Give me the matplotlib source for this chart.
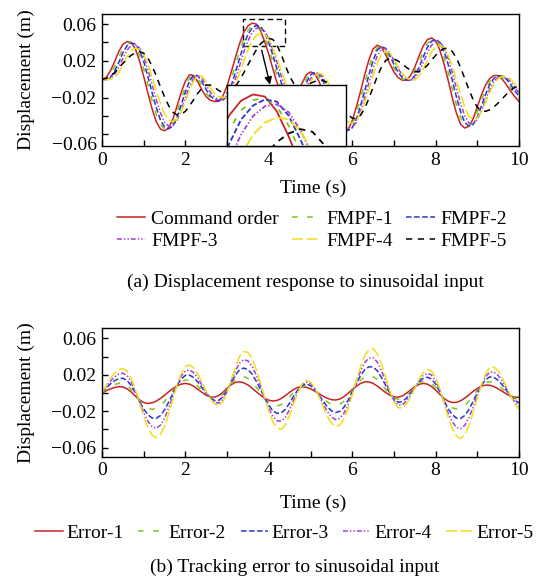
import matplotlib
matplotlib.use('Agg')
import matplotlib.pyplot as plt
import numpy as np
from matplotlib.patches import Rectangle

plt.rcParams['font.family'] = ['Liberation Serif', 'DejaVu Serif']
plt.rcParams['font.size'] = 14
plt.rcParams['lines.scale_dashes'] = False

# sampling grid (s)
time = np.linspace(0, 10, 101)

# (a) displacement response, every 0.1 s
command = [0.000, 0.002, 0.009, 0.019, 0.030, 0.038, 0.041, 0.040, 0.033, 0.020,
           0.003, -0.015, -0.032, -0.046, -0.054, -0.056, -0.053, -0.043, -0.029, -0.014,
           -0.002, 0.005, 0.004, -0.003, -0.012, -0.019, -0.023, -0.024, -0.024, -0.018,
           -0.007, 0.008, 0.024, 0.039, 0.051, 0.058, 0.061, 0.060, 0.053, 0.041,
           0.027, 0.011, -0.004, -0.015, -0.022, -0.024, -0.022, -0.014, -0.004, 0.005,
           0.008, 0.006, -0.002, -0.014, -0.028, -0.041, -0.051, -0.057, -0.058, -0.055,
           -0.045, -0.030, -0.013, 0.005, 0.021, 0.033, 0.037, 0.035, 0.027, 0.017,
           0.008, 0.002, -0.001, -0.001, 0.004, 0.013, 0.025, 0.036, 0.043, 0.045,
           0.042, 0.032, 0.017, -0.001, -0.020, -0.037, -0.049, -0.053, -0.051, -0.043,
           -0.030, -0.017, -0.006, 0.001, 0.004, 0.004, 0.000, -0.006, -0.013, -0.019,
           -0.024]
fmpf1 = [0.0, 0.0010, 0.0054, 0.0137, 0.0240, 0.0333, 0.0387, 0.0397, 0.0358, 0.0260,
         0.0113, -0.0059, -0.0230, -0.0382, -0.0490, -0.0539, -0.0534, -0.0470, -0.0353, -0.0211,
         -0.0078, 0.0015, 0.0044, 0.0005, -0.0074, -0.0152, -0.0206, -0.0230, -0.0235, -0.0206,
         -0.0123, 0.0005, 0.0157, 0.0309, 0.0441, 0.0534, 0.0583, 0.0593, 0.0554, 0.0461,
         0.0333, 0.0186, 0.0034, -0.0093, -0.0181, -0.0225, -0.0225, -0.0176, -0.0088, 0.0005,
         0.0064, 0.0069, 0.0020, -0.0078, -0.0206, -0.0338, -0.0451, -0.0529, -0.0564, -0.0554,
         -0.0490, -0.0368, -0.0211, -0.0039, 0.0127, 0.0265, 0.0343, 0.0353, 0.0304, 0.0216,
         0.0123, 0.0049, 0.0005, -0.0010, 0.0015, 0.0083, 0.0186, 0.0299, 0.0387, 0.0431,
         0.0426, 0.0363, 0.0240, 0.0078, -0.0103, -0.0279, -0.0421, -0.0500, -0.0510, -0.0461,
         -0.0358, -0.0230, -0.0113, -0.0025, 0.0025, 0.0039, 0.0020, -0.0029, -0.0093, -0.0157,
         -0.0211]
fmpf2 = [0.0, 0.0000, 0.0020, 0.0086, 0.0182, 0.0288, 0.0365, 0.0394, 0.0384, 0.0317,
         0.0192, 0.0029, -0.0144, -0.0307, -0.0442, -0.0518, -0.0538, -0.0509, -0.0413, -0.0278,
         -0.0134, -0.0019, 0.0048, 0.0038, -0.0029, -0.0115, -0.0182, -0.0221, -0.0230, -0.0230,
         -0.0173, -0.0067, 0.0077, 0.0230, 0.0374, 0.0490, 0.0557, 0.0586, 0.0576, 0.0509,
         0.0394, 0.0259, 0.0106, -0.0038, -0.0144, -0.0211, -0.0230, -0.0211, -0.0134, -0.0038,
         0.0048, 0.0077, 0.0058, -0.0019, -0.0134, -0.0269, -0.0394, -0.0490, -0.0547, -0.0557,
         -0.0528, -0.0432, -0.0288, -0.0125, 0.0048, 0.0202, 0.0317, 0.0355, 0.0336, 0.0259,
         0.0163, 0.0077, 0.0019, -0.0010, -0.0010, 0.0038, 0.0125, 0.0240, 0.0346, 0.0413,
         0.0432, 0.0403, 0.0307, 0.0163, -0.0010, -0.0192, -0.0355, -0.0470, -0.0509, -0.0490,
         -0.0413, -0.0288, -0.0163, -0.0058, 0.0010, 0.0038, 0.0038, 0.0000, -0.0058, -0.0125,
         -0.0182]
fmpf3 = [0.0, 0.0, 0.0010, 0.0051, 0.0130, 0.0228, 0.0316, 0.0368, 0.0377, 0.0340,
         0.0247, 0.0107, -0.0056, -0.0219, -0.0363, -0.0466, -0.0512, -0.0507, -0.0447, -0.0335,
         -0.0200, -0.0074, 0.0014, 0.0042, 0.0005, -0.0070, -0.0144, -0.0196, -0.0219, -0.0223,
         -0.0196, -0.0117, 0.0005, 0.0149, 0.0294, 0.0419, 0.0507, 0.0554, 0.0563, 0.0526,
         0.0438, 0.0316, 0.0177, 0.0032, -0.0088, -0.0172, -0.0214, -0.0214, -0.0167, -0.0084,
         0.0005, 0.0061, 0.0066, 0.0019, -0.0074, -0.0196, -0.0321, -0.0428, -0.0503, -0.0536,
         -0.0526, -0.0466, -0.0350, -0.0200, -0.0037, 0.0121, 0.0252, 0.0326, 0.0335, 0.0289,
         0.0205, 0.0117, 0.0047, 0.0005, -0.0010, 0.0014, 0.0079, 0.0177, 0.0284, 0.0368,
         0.0409, 0.0405, 0.0345, 0.0228, 0.0074, -0.0098, -0.0265, -0.0400, -0.0475, -0.0485,
         -0.0438, -0.0340, -0.0219, -0.0107, -0.0024, 0.0024, 0.0037, 0.0019, -0.0028, -0.0088,
         -0.0149]
fmpf4 = [0.0, 0.0, 0.0, 0.0016, 0.0074, 0.0156, 0.0246, 0.0312, 0.0336, 0.0328,
         0.0271, 0.0164, 0.0025, -0.0123, -0.0262, -0.0377, -0.0443, -0.0459, -0.0435, -0.0353,
         -0.0238, -0.0115, -0.0016, 0.0041, 0.0033, -0.0025, -0.0098, -0.0156, -0.0189, -0.0197,
         -0.0197, -0.0148, -0.0057, 0.0066, 0.0197, 0.0320, 0.0418, 0.0476, 0.0500, 0.0492,
         0.0435, 0.0336, 0.0221, 0.0090, -0.0033, -0.0123, -0.0180, -0.0197, -0.0180, -0.0115,
         -0.0033, 0.0041, 0.0066, 0.0049, -0.0016, -0.0115, -0.0230, -0.0336, -0.0418, -0.0467,
         -0.0476, -0.0451, -0.0369, -0.0246, -0.0107, 0.0041, 0.0172, 0.0271, 0.0303, 0.0287,
         0.0221, 0.0139, 0.0066, 0.0016, -0.0008, -0.0008, 0.0033, 0.0107, 0.0205, 0.0295,
         0.0353, 0.0369, 0.0344, 0.0262, 0.0139, -0.0008, -0.0164, -0.0303, -0.0402, -0.0435,
         -0.0418, -0.0353, -0.0246, -0.0139, -0.0049, 0.0008, 0.0033, 0.0033, 0.0000, -0.0049,
         -0.0107]
fmpf5 = [0.0, 0.0009, 0.0035, 0.0073, 0.0121, 0.0173, 0.0223, 0.0261, 0.0289, 0.0300,
         0.0284, 0.0231, 0.0143, 0.0039, -0.0081, -0.0191, -0.0289, -0.0358, -0.0388, -0.0382,
         -0.0347, -0.0288, -0.0220, -0.0150, -0.0095, -0.0064, -0.0063, -0.0088, -0.0122, -0.0147,
         -0.0147, -0.0122, -0.0075, -0.0010, 0.0071, 0.0157, 0.0240, 0.0319, 0.0383, 0.0425,
         0.0445, 0.0432, 0.0369, 0.0266, 0.0146, 0.0032, -0.0047, -0.0080, -0.0076, -0.0062,
         -0.0043, -0.0024, -0.0013, -0.0011, -0.0036, -0.0091, -0.0162, -0.0245, -0.0322, -0.0385,
         -0.0422, -0.0428, -0.0391, -0.0316, -0.0208, -0.0087, 0.0029, 0.0133, 0.0202, 0.0230,
         0.0223, 0.0199, 0.0167, 0.0129, 0.0099, 0.0082, 0.0083, 0.0108, 0.0151, 0.0206,
         0.0260, 0.0305, 0.0334, 0.0338, 0.0303, 0.0230, 0.0127, 0.0006, -0.0112, -0.0222,
         -0.0304, -0.0345, -0.0348, -0.0331, -0.0300, -0.0258, -0.0210, -0.0162, -0.0120, -0.0089,
         -0.0072]

# (b) tracking errors
err1 = [0.0, 0.0024, 0.0045, 0.0061, 0.0069, 0.0067, 0.0047, 0.0011, -0.0034, -0.0076,
        -0.0104, -0.0115, -0.0108, -0.0089, -0.0060, -0.0024, 0.0014, 0.0050, 0.0079, 0.0098,
        0.0105, 0.0097, 0.0074, 0.0041, 0.0006, -0.0025, -0.0043, -0.0046, -0.0028, 0.0008,
        0.0052, 0.0092, 0.0118, 0.0123, 0.0112, 0.0088, 0.0053, 0.0014, -0.0023, -0.0057,
        -0.0079, -0.0088, -0.0081, -0.0060, -0.0027, 0.0008, 0.0041, 0.0062, 0.0069, 0.0062,
        0.0046, 0.0021, -0.0006, -0.0035, -0.0057, -0.0073, -0.0077, -0.0067, -0.0041, -0.0004,
        0.0037, 0.0074, 0.0105, 0.0122, 0.0122, 0.0106, 0.0077, 0.0041, 0.0006, -0.0024,
        -0.0043, -0.0047, -0.0032, -0.0003, 0.0034, 0.0068, 0.0095, 0.0106, 0.0098, 0.0072,
        0.0033, -0.0014, -0.0057, -0.0089, -0.0105, -0.0102, -0.0085, -0.0056, -0.0021, 0.0018,
        0.0050, 0.0076, 0.0087, 0.0085, 0.0070, 0.0046, 0.0018, -0.0011, -0.0034, -0.0046,
        -0.0047]
err2 = [0.0, 0.0036, 0.0068, 0.0092, 0.0107, 0.0108, 0.0086, 0.0041, -0.0020, -0.0083,
        -0.0134, -0.0168, -0.0179, -0.0169, -0.0139, -0.0092, -0.0034, 0.0027, 0.0082, 0.0122,
        0.0143, 0.0139, 0.0114, 0.0074, 0.0028, -0.0017, -0.0048, -0.0061, -0.0050, -0.0013,
        0.0043, 0.0102, 0.0152, 0.0179, 0.0181, 0.0159, 0.0118, 0.0063, 0.0004, -0.0056,
        -0.0103, -0.0134, -0.0142, -0.0127, -0.0091, -0.0042, 0.0010, 0.0051, 0.0075, 0.0078,
        0.0061, 0.0029, -0.0012, -0.0058, -0.0096, -0.0124, -0.0135, -0.0125, -0.0090, -0.0037,
        0.0025, 0.0088, 0.0142, 0.0179, 0.0193, 0.0182, 0.0148, 0.0097, 0.0040, -0.0014,
        -0.0053, -0.0070, -0.0058, -0.0026, 0.0019, 0.0065, 0.0106, 0.0129, 0.0130, 0.0106,
        0.0061, -0.0002, -0.0067, -0.0124, -0.0162, -0.0176, -0.0168, -0.0137, -0.0089, -0.0028,
        0.0029, 0.0079, 0.0113, 0.0124, 0.0113, 0.0085, 0.0048, 0.0005, -0.0033, -0.0061,
        -0.0073]
err3 = [0.0, 0.0052, 0.0099, 0.0135, 0.0157, 0.0162, 0.0138, 0.0081, -0.0001, -0.0092,
        -0.0175, -0.0239, -0.0274, -0.0277, -0.0247, -0.0184, -0.0099, -0.0005, 0.0085, 0.0153,
        0.0194, 0.0196, 0.0168, 0.0119, 0.0057, -0.0006, -0.0055, -0.0082, -0.0081, -0.0041,
        0.0030, 0.0116, 0.0197, 0.0255, 0.0274, 0.0256, 0.0206, 0.0129, 0.0040, -0.0055,
        -0.0135, -0.0196, -0.0224, -0.0218, -0.0178, -0.0110, -0.0031, 0.0037, 0.0084, 0.0099,
        0.0081, 0.0039, -0.0020, -0.0088, -0.0149, -0.0194, -0.0214, -0.0202, -0.0157, -0.0081,
        0.0009, 0.0106, 0.0191, 0.0256, 0.0288, 0.0285, 0.0245, 0.0172, 0.0086, -0.0001,
        -0.0067, -0.0101, -0.0094, -0.0058, -0.0002, 0.0060, 0.0120, 0.0161, 0.0173, 0.0153,
        0.0098, 0.0014, -0.0081, -0.0171, -0.0238, -0.0276, -0.0280, -0.0246, -0.0180, -0.0091,
        0.0002, 0.0084, 0.0147, 0.0177, 0.0171, 0.0139, 0.0089, 0.0026, -0.0033, -0.0080,
        -0.0109]
err4 = [0.0, 0.0068, 0.0129, 0.0177, 0.0208, 0.0217, 0.0191, 0.0121, 0.0018, -0.0101,
        -0.0216, -0.0310, -0.0369, -0.0386, -0.0354, -0.0276, -0.0164, -0.0036, 0.0089, 0.0185,
        0.0245, 0.0253, 0.0223, 0.0163, 0.0086, 0.0005, -0.0062, -0.0103, -0.0111, -0.0070,
        0.0018, 0.0130, 0.0243, 0.0330, 0.0367, 0.0352, 0.0294, 0.0195, 0.0077, -0.0053,
        -0.0167, -0.0258, -0.0306, -0.0309, -0.0265, -0.0178, -0.0073, 0.0023, 0.0093, 0.0120,
        0.0102, 0.0049, -0.0028, -0.0119, -0.0201, -0.0263, -0.0292, -0.0280, -0.0224, -0.0125,
        -0.0007, 0.0124, 0.0240, 0.0334, 0.0383, 0.0388, 0.0341, 0.0247, 0.0132, 0.0013,
        -0.0080, -0.0131, -0.0130, -0.0090, -0.0023, 0.0055, 0.0135, 0.0193, 0.0216, 0.0199,
        0.0135, 0.0030, -0.0095, -0.0218, -0.0315, -0.0377, -0.0392, -0.0355, -0.0271, -0.0154,
        -0.0026, 0.0089, 0.0182, 0.0230, 0.0229, 0.0192, 0.0129, 0.0047, -0.0032, -0.0100,
        -0.0145]
err5 = [0.0, 0.0083, 0.0159, 0.0218, 0.0257, 0.0270, 0.0241, 0.0159, 0.0036, -0.0110,
        -0.0256, -0.0379, -0.0461, -0.0490, -0.0457, -0.0364, -0.0227, -0.0066, 0.0092, 0.0216,
        0.0294, 0.0308, 0.0275, 0.0206, 0.0114, 0.0015, -0.0068, -0.0123, -0.0140, -0.0097,
        0.0006, 0.0144, 0.0287, 0.0403, 0.0456, 0.0445, 0.0378, 0.0258, 0.0112, -0.0052,
        -0.0198, -0.0318, -0.0385, -0.0397, -0.0348, -0.0244, -0.0113, 0.0009, 0.0101, 0.0140,
        0.0121, 0.0059, -0.0036, -0.0148, -0.0252, -0.0330, -0.0368, -0.0355, -0.0288, -0.0168,
        -0.0022, 0.0142, 0.0288, 0.0408, 0.0475, 0.0487, 0.0434, 0.0320, 0.0176, 0.0026,
        -0.0093, -0.0161, -0.0164, -0.0120, -0.0043, 0.0051, 0.0149, 0.0223, 0.0258, 0.0244,
        0.0171, 0.0046, -0.0108, -0.0263, -0.0389, -0.0473, -0.0500, -0.0460, -0.0359, -0.0214,
        -0.0053, 0.0093, 0.0215, 0.0281, 0.0285, 0.0243, 0.0168, 0.0068, -0.0031, -0.0119,
        -0.0179]

top_labels = ['Command order', 'FMPF-1', 'FMPF-2', 'FMPF-3', 'FMPF-4', 'FMPF-5']
bottom_labels = ['Error-1', 'Error-2', 'Error-3', 'Error-4', 'Error-5']

red, green, blue, purple, yellow = '#cc2222', '#7ec41e', '#2a36c8', '#a33fd6', '#f0de1a'
dash_solid = None
dash_long = (4, 7)
dash_short = (4, 1.8)
dash_dot = (3.5, 1.5, 1, 1.5, 1, 1.5)
dash_yellow = (8, 2.5)
dash_black = (4.5, 4)

top_series = [
    (command, red, dash_solid),
    (fmpf1, green, dash_long),
    (fmpf2, blue, dash_short),
    (fmpf3, purple, dash_dot),
    (fmpf4, yellow, dash_yellow),
    (fmpf5, 'black', dash_black),
]
bottom_series = [
    (err1, red, dash_solid),
    (err2, green, dash_long),
    (err3, blue, dash_short),
    (err4, purple, dash_dot),
    (err5, yellow, dash_yellow),
]


def draw(ax, series, labels, lw=1.1):
    lines = []
    for (y, c, d), lab in zip(series, labels):
        kw = dict(color=c, lw=lw, label=lab)
        if d is not None:
            kw['dashes'] = d
        ln, = ax.plot(time, y, **kw)
        lines.append(ln)
    return lines


def style(ax, ylim):
    ax.set_xlim(0, 10)
    ax.set_ylim(*ylim)
    ax.set_xticks([0, 2, 4, 6, 8, 10])
    ax.set_xticks([1, 3, 5, 7, 9], minor=True)
    ax.set_yticks([-0.06, -0.02, 0.02, 0.06])
    ax.set_yticks([-0.04, 0.0, 0.04], minor=True)
    ax.set_yticklabels(['\u22120.06', '\u22120.02', '0.02', '0.06'])
    ax.tick_params(which='both', direction='in', length=4, width=1,
                   top=False, right=False)
    ax.tick_params(axis='x', pad=4)
    ax.tick_params(axis='y', pad=4)
    for s in ax.spines.values():
        s.set_linewidth(1.0)
    ax.set_ylabel('Displacement (m)')
    ax.yaxis.set_label_coords(-0.16, 0.5)


fig = plt.figure(figsize=(5.45, 5.77), dpi=100)
ax1 = fig.add_axes([0.1872, 0.7470, 0.7651, 0.2288])
ax2 = fig.add_axes([0.1872, 0.2088, 0.7651, 0.2222])

# ---- (a)
top_lines = draw(ax1, top_series, top_labels)
style(ax1, (-0.0725, 0.071))
ax1.set_yticklabels(['', '\u22120.02', '0.02', '0.06'])
ax1.text(-0.012, -0.0725, '\u22120.06', transform=ax1.get_yaxis_transform(),
         ha='right', va='center')

# zoom box, arrow and inset
ax1.add_patch(Rectangle((3.38, 0.0365), 1.0, 0.029, fill=False, ec='black',
                        lw=1.0, ls=(0, (4, 2.5))))
ax1.annotate('', xy=(4.03, -0.0058), xytext=(3.83, 0.0315),
             arrowprops=dict(arrowstyle='-|>', color='black', lw=1.0,
                             mutation_scale=11, shrinkA=0, shrinkB=0))
axins = ax1.inset_axes([2.99, -0.0725, 2.86, 0.0663], transform=ax1.transData)
draw(axins, top_series, top_labels, lw=1.3)
axins.set_xlim(3.38, 4.38)
axins.set_ylim(0.0365, 0.0655)
axins.set_xticks([])
axins.set_yticks([])
axins.set_facecolor('white')
for s in axins.spines.values():
    s.set_linewidth(1.0)

fig.text(313 / 545, 1 - 188 / 577, 'Time (s)', ha='center', va='center')
order = [0, 3, 1, 4, 2, 5]
fig.legend([top_lines[i] for i in order], [top_labels[i] for i in order],
           loc='center', bbox_to_anchor=(0.5725, 1 - 230 / 577), ncol=3,
           frameon=False, handlelength=1.45, handletextpad=0.3,
           columnspacing=0.7, labelspacing=0.25, borderpad=0, borderaxespad=0)
fig.text(305 / 545, 1 - 282 / 577, '(a) Displacement response to sinusoidal input',
         ha='center', va='center')

# ---- (b)
bottom_lines = draw(ax2, bottom_series, bottom_labels)
style(ax2, (-0.0697, 0.071))

fig.text(313 / 545, 1 - 503 / 577, 'Time (s)', ha='center', va='center')
fig.legend(bottom_lines, bottom_labels, loc='center',
           bbox_to_anchor=(0.522, 1 - 533 / 577), ncol=5, frameon=False,
           handlelength=1.4, handletextpad=0.18, columnspacing=0.75,
           borderpad=0, borderaxespad=0)
fig.text(295 / 545, 1 - 567 / 577, '(b) Tracking error to sinusoidal input',
         ha='center', va='center')

fig.savefig('out.png', dpi=100)
